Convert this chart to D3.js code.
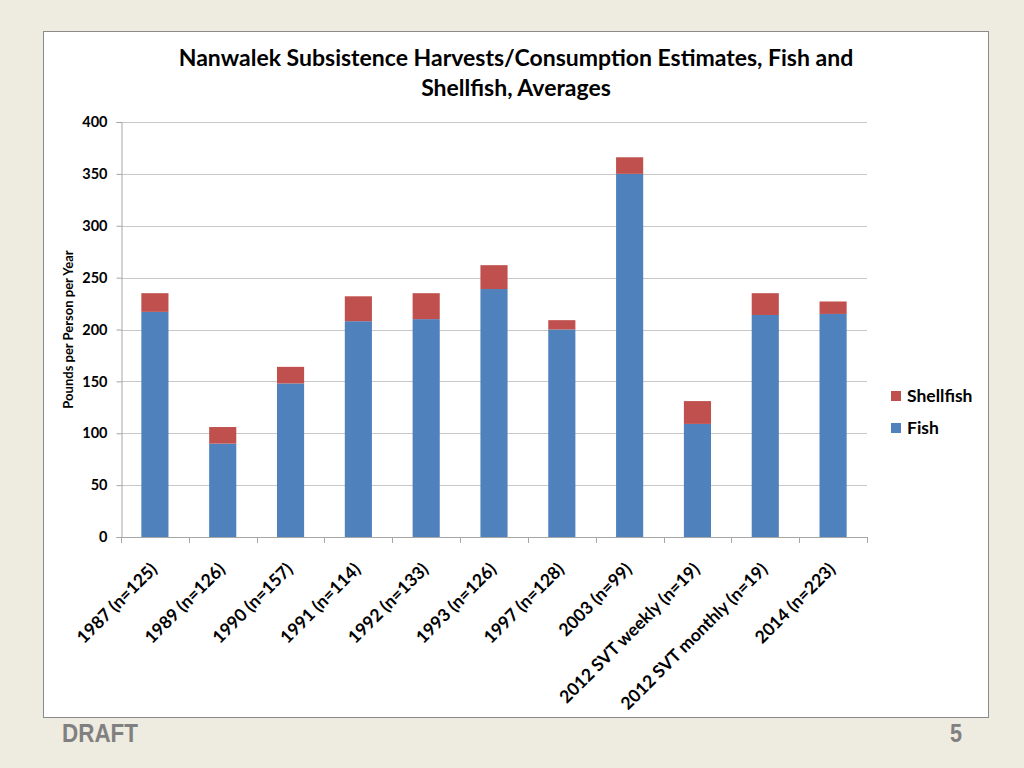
<!DOCTYPE html>
<html>
<head>
<meta charset="utf-8">
<script src="https://cdn.jsdelivr.net/npm/d3@7"></script>
<style>
  html, body { margin: 0; padding: 0; background: #EEEBE0; }
  svg { display: block; }
</style>
</head>
<body>
<svg id="chart" width="1024" height="768"></svg>
<script>
const categories = ["1987 (n=125)", "1989 (n=126)", "1990 (n=157)", "1991 (n=114)", "1992 (n=133)", "1993 (n=126)", "1997 (n=128)", "2003 (n=99)", "2012 SVT weekly (n=19)", "2012 SVT monthly (n=19)", "2014 (n=223)"];
const fish = [217, 90, 148, 208, 210, 239, 200, 350, 109, 214, 215];
const shellfish = [18, 16, 16, 24, 25, 23, 9, 16, 22, 21, 12];
const seriesNames = ["Fish", "Shellfish"];
const seriesColors = ["#4F81BD", "#C0504D"];
const yTicks = [0, 50, 100, 150, 200, 250, 300, 350, 400];
const titleLines = ["Nanwalek Subsistence Harvests/Consumption Estimates, Fish and", "Shellfish, Averages"];
const yLabel = "Pounds per Person per Year";

const svg = d3.select("#chart");
const FONT = "Lato, 'Open Sans', sans-serif";

// slide panel
svg.append("rect").attr("x", 43.5).attr("y", 31.5).attr("width", 945).attr("height", 686)
  .attr("fill", "#ffffff").attr("stroke", "#8a8a8a").attr("stroke-width", 1);

const m = { left: 121, right: 867, top: 122, bottom: 537 };
const x = d3.scaleBand().domain(categories).range([m.left, m.right]).paddingInner(0.6).paddingOuter(0.3);
const xb = d3.scaleBand().domain(categories).range([m.left, m.right]);
const y = d3.scaleLinear().domain([0, 400]).range([m.bottom, m.top]);

// gridlines
svg.append("g").selectAll("line").data(yTicks.filter(d => d > 0)).join("line")
  .attr("x1", m.left).attr("x2", m.right)
  .attr("y1", d => Math.round(y(d)) + 0.5).attr("y2", d => Math.round(y(d)) + 0.5)
  .attr("stroke", "#c8c8c8").attr("stroke-width", 1);

// stacked data
const rows = categories.map((c, i) => ({ cat: c, Fish: fish[i], Shellfish: shellfish[i] }));
const stack = d3.stack().keys(seriesNames)(rows);
const color = d3.scaleOrdinal().domain(seriesNames).range(seriesColors);

svg.append("g").selectAll("g").data(stack).join("g")
  .attr("fill", d => color(d.key))
  .selectAll("rect").data(d => d).join("rect")
  .attr("x", d => x(d.data.cat))
  .attr("width", x.bandwidth())
  .attr("y", d => y(d[1]))
  .attr("height", d => y(d[0]) - y(d[1]));

// y axis
const yAxis = d3.axisLeft(y).tickValues(yTicks).tickSize(5).tickPadding(9);
const gy = svg.append("g").attr("transform", `translate(${m.left + 0.5},0)`).call(yAxis);
gy.select(".domain").attr("stroke", "#a6a6a6");
gy.selectAll(".tick line").attr("stroke", "#a6a6a6");
gy.selectAll(".tick text").attr("font-family", FONT).attr("font-weight", "bold")
  .attr("font-size", 14.5).attr("fill", "#000");

// x axis line + tick marks at band boundaries
const boundaries = categories.map(c => xb(c)).concat([m.right]);
svg.append("line").attr("x1", m.left).attr("x2", m.right)
  .attr("y1", m.bottom + 0.5).attr("y2", m.bottom + 0.5).attr("stroke", "#a6a6a6");
svg.append("g").selectAll("line").data(boundaries).join("line")
  .attr("x1", d => Math.round(d) + 0.5).attr("x2", d => Math.round(d) + 0.5)
  .attr("y1", m.bottom).attr("y2", m.bottom + 6).attr("stroke", "#a6a6a6");

// x labels rotated
svg.append("g").selectAll("text").data(categories).join("text")
  .attr("transform", d => `translate(${x(d) + x.bandwidth() / 2 - 1},${m.bottom + 29}) rotate(-45)`)
  .attr("text-anchor", "end").attr("dy", "0.35em")
  .attr("font-family", FONT).attr("font-weight", "bold").attr("font-size", 17.5).attr("fill", "#000")
  .text(d => d);

// y label
svg.append("text")
  .attr("transform", `translate(73,${(m.top + m.bottom) / 2}) rotate(-90)`)
  .attr("text-anchor", "middle")
  .attr("font-family", FONT).attr("font-weight", "bold").attr("font-size", 13).attr("fill", "#000")
  .text(yLabel);

// title
svg.append("g").selectAll("text").data(titleLines).join("text")
  .attr("x", 516).attr("y", (d, i) => 66 + i * 30)
  .attr("text-anchor", "middle")
  .attr("font-family", FONT).attr("font-weight", "bold").attr("font-size", 23).attr("fill", "#000")
  .text(d => d);

// legend
const legendItems = ["Shellfish", "Fish"];
const lg = svg.append("g").selectAll("g").data(legendItems).join("g")
  .attr("transform", (d, i) => `translate(891,${391 + i * 32})`);
lg.append("rect").attr("width", 10).attr("height", 10).attr("fill", d => color(d));
lg.append("text").attr("x", 16).attr("y", 5).attr("dy", "0.35em")
  .attr("font-family", FONT).attr("font-weight", "bold").attr("font-size", 17.5).attr("fill", "#000")
  .text(d => d);

// footer
svg.append("text").attr("x", 62).attr("y", 742)
  .attr("font-family", "'Liberation Sans', sans-serif").attr("font-weight", "bold").attr("font-size", 25)
  .attr("textLength", 76).attr("lengthAdjust", "spacingAndGlyphs").attr("fill", "#808080")
  .text("DRAFT");
svg.append("text").attr("x", 962).attr("y", 742).attr("text-anchor", "end")
  .attr("font-family", "'Liberation Sans', sans-serif").attr("font-weight", "bold").attr("font-size", 25)
  .attr("textLength", 12).attr("lengthAdjust", "spacingAndGlyphs").attr("fill", "#808080")
  .text("5");
</script>
</body>
</html>
